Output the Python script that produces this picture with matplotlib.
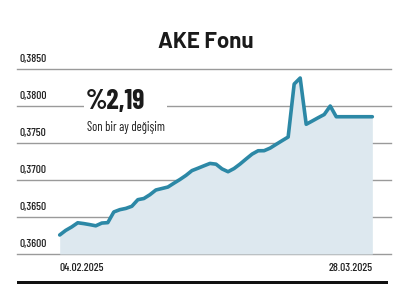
import matplotlib
matplotlib.use("Agg")
import matplotlib.pyplot as plt
import matplotlib.dates as mdates
from matplotlib.patches import Rectangle
import pandas as pd

# ---- data ----
title = "AKE Fonu"
change_text = "%2,19"
change_label = "Son bir ay değişim"
start_label = "04.02.2025"
end_label = "28.03.2025"
dates = pd.date_range("2025-02-04", "2025-03-28", freq="D")
values = [0.36257, 0.36319, 0.36366, 0.36422, 0.36411, 0.36397, 0.36381, 0.36418,
          0.36424, 0.36568, 0.36599, 0.36616, 0.36645, 0.36734, 0.36750, 0.36801,
          0.36865, 0.36885, 0.36905, 0.36957, 0.37007, 0.37062, 0.37127, 0.37159,
          0.37192, 0.37224, 0.37214, 0.37150, 0.37112, 0.37155, 0.37216, 0.37284,
          0.37350, 0.37395, 0.37396, 0.37431, 0.37482, 0.37532, 0.37581, 0.38297,
          0.38378, 0.37753, 0.37797, 0.37842, 0.37885, 0.38000, 0.37855, 0.37855,
          0.37855, 0.37855, 0.37855, 0.37855, 0.37855]
yticks = [0.3600, 0.3650, 0.3700, 0.3750, 0.3800, 0.3850]
ytick_labels = ["0,3600", "0,3650", "0,3700", "0,3750", "0,3800", "0,3850"]

# ---- fonts ----
narrow = ["Barlow Condensed", "DejaVu Sans"]
title_font = ["Barlow", "DejaVu Sans"]

W, H = 400, 288
fig = plt.figure(figsize=(4.0, 2.88), dpi=100)
fig.patch.set_facecolor("white")

x_left, x_right = 17, 391
y_top, y_bot = 69, 254
ax = fig.add_axes([x_left / W, 1 - y_bot / H, (x_right - x_left) / W, (y_bot - y_top) / H])
ax.set_axis_off()

xnum = mdates.date2num(dates)
px_per_day = 6.012
x0 = xnum[0] - (59.7 - x_left) / px_per_day
x1 = xnum[0] + (x_right - 59.7) / px_per_day
ax.set_xlim(x0, x1)
ax.set_ylim(0.36, 0.385)

line_color = "#2c88a6"
fill_color = "#dde8ef"
grid_color = "#9a9a9a"

for v in yticks:
    ax.axhline(v, color=grid_color, lw=1.0, zorder=1, clip_on=False)

ax.fill_between(xnum, values, 0.36, color=fill_color, lw=0, zorder=2)
ax.plot(xnum, values, color=line_color, lw=2.6, solid_joinstyle="round",
        solid_capstyle="round", zorder=4, clip_on=False)

for v, lab in zip(yticks, ytick_labels):
    ax.annotate(lab, xy=(0, v), xycoords=("axes fraction", "data"),
                xytext=(2, 10), textcoords="offset pixels",
                ha="left", va="center", fontsize=8.4, fontweight="medium",
                family=narrow, color="#222222", zorder=5)

fig.patches.append(Rectangle((84 / W, 1 - 136 / H), (167 - 84) / W, (136 - 88) / H,
                             transform=fig.transFigure, facecolor="white",
                             edgecolor="none", zorder=3))
fig.text(86 / W, 1 - 101 / H, change_text, ha="left", va="center",
         fontsize=20, fontweight="bold", family=narrow,
         color="#1a1a1a", zorder=6)
fig.text(87 / W, 1 - 127.5 / H, change_label, ha="left", va="center",
         fontsize=9, family=narrow, color="#1a1a1a", zorder=6)

fig.text(206 / W, 1 - 41.5 / H, title, ha="center", va="center",
         fontsize=16, fontweight="bold", family=title_font, color="#1a1a1a")

fig.text(60 / W, 1 - 268 / H, start_label, ha="left", va="center",
         fontsize=8.4, fontweight="medium", family=narrow, color="#222222")
fig.text(373 / W, 1 - 268 / H, end_label, ha="right", va="center",
         fontsize=8.4, fontweight="medium", family=narrow, color="#222222")

fig.patches.append(Rectangle((17 / W, 1 - 283.5 / H), (388 - 17) / W, 3 / H,
                             transform=fig.transFigure, facecolor="#111111",
                             edgecolor="none"))

fig.savefig("out.png", dpi=100, facecolor="white")
